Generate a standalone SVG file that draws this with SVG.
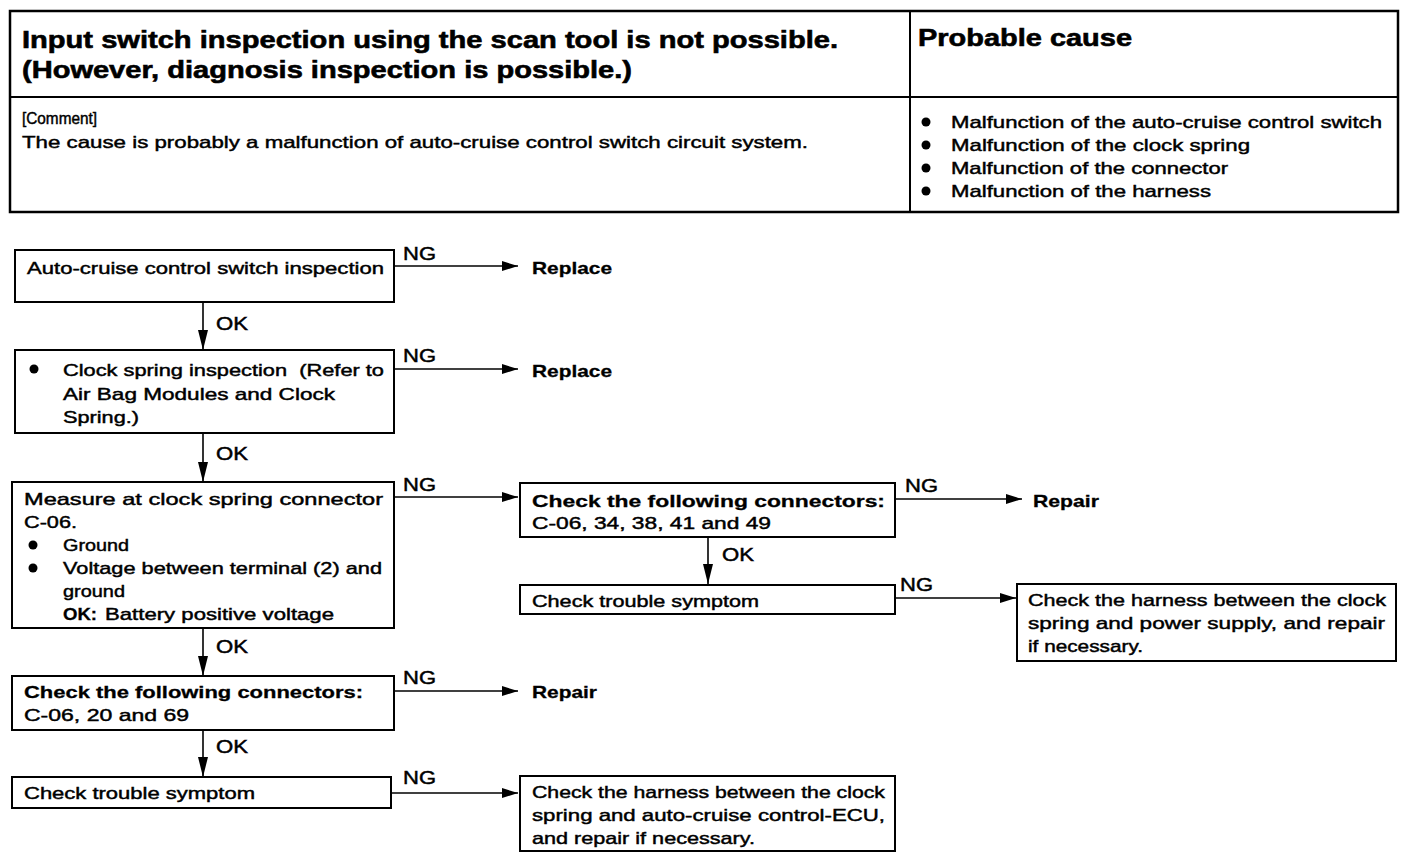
<svg xmlns="http://www.w3.org/2000/svg" width="1408" height="860" viewBox="0 0 1408 860">
<defs>
<style>
text{font-family:"Liberation Sans",Arial,sans-serif;fill:#000}
.t{font-size:17px;stroke:#000;stroke-width:0.45}
.b{font-size:17px;font-weight:bold;stroke:#000;stroke-width:0.3}
.h{font-size:24px;font-weight:bold;stroke:#000;stroke-width:0.6}
.lbl{font-size:18px;stroke:#000;stroke-width:0.45}
.box{fill:#fff;stroke:#000;stroke-width:2}
.ln{fill:none;stroke:#000;stroke-width:1.6}
</style>
<marker id="ah" viewBox="0 0 16 10" refX="16" refY="5" markerWidth="16" markerHeight="10" markerUnits="userSpaceOnUse" orient="auto"><path d="M0,0 L16,5 L0,10 z" fill="#000"/></marker>
<marker id="av" viewBox="0 0 20 10" refX="20" refY="5" markerWidth="20" markerHeight="10" markerUnits="userSpaceOnUse" orient="auto"><path d="M0,0 L20,5 L0,10 z" fill="#000"/></marker>
</defs>
<rect width="1408" height="860" fill="#fff"/>

<g id="table">
<rect x="10" y="11" width="1388" height="201" fill="none" stroke="#000" stroke-width="2.5"/>
<line x1="10" y1="97" x2="1398" y2="97" stroke="#000" stroke-width="2"/>
<line x1="910" y1="11" x2="910" y2="212" stroke="#000" stroke-width="2"/>
<text class="h" x="22" y="48" textLength="816" lengthAdjust="spacingAndGlyphs">Input switch inspection using the scan tool is not possible.</text>
<text class="h" x="22" y="78" textLength="610" lengthAdjust="spacingAndGlyphs">(However, diagnosis inspection is possible.)</text>
<text class="h" x="918" y="46" textLength="214" lengthAdjust="spacingAndGlyphs">Probable cause</text>
<text class="t" x="22" y="124" textLength="75" lengthAdjust="spacingAndGlyphs">[Comment]</text>
<text class="t" x="22" y="148" textLength="786" lengthAdjust="spacingAndGlyphs">The cause is probably a malfunction of auto-cruise control switch circuit system.</text>
<circle cx="926" cy="122" r="4.5"/>
<circle cx="926" cy="145" r="4.5"/>
<circle cx="926" cy="168" r="4.5"/>
<circle cx="926" cy="191" r="4.5"/>
<text class="t" x="951" y="128" textLength="431" lengthAdjust="spacingAndGlyphs">Malfunction of the auto-cruise control switch</text>
<text class="t" x="951" y="151" textLength="299" lengthAdjust="spacingAndGlyphs">Malfunction of the clock spring</text>
<text class="t" x="951" y="174" textLength="277" lengthAdjust="spacingAndGlyphs">Malfunction of the connector</text>
<text class="t" x="951" y="197" textLength="260" lengthAdjust="spacingAndGlyphs">Malfunction of the harness</text>
</g>

<g id="connectors">
<line class="ln" x1="394" y1="266" x2="518" y2="266" marker-end="url(#ah)"/>
<line class="ln" x1="394" y1="369" x2="518" y2="369" marker-end="url(#ah)"/>
<line class="ln" x1="394" y1="497" x2="518" y2="497" marker-end="url(#ah)"/>
<line class="ln" x1="895" y1="499" x2="1022" y2="499" marker-end="url(#ah)"/>
<line class="ln" x1="895" y1="598" x2="1016" y2="598" marker-end="url(#ah)"/>
<line class="ln" x1="394" y1="691" x2="518" y2="691" marker-end="url(#ah)"/>
<line class="ln" x1="391" y1="793" x2="518" y2="793" marker-end="url(#ah)"/>
<line class="ln" x1="203" y1="302" x2="203" y2="350" marker-end="url(#av)"/>
<line class="ln" x1="203" y1="433" x2="203" y2="482" marker-end="url(#av)"/>
<line class="ln" x1="203" y1="628" x2="203" y2="676" marker-end="url(#av)"/>
<line class="ln" x1="203" y1="730" x2="203" y2="777" marker-end="url(#av)"/>
<line class="ln" x1="708" y1="537" x2="708" y2="584" marker-end="url(#av)"/>
<text class="lbl" x="403" y="260" textLength="33" lengthAdjust="spacingAndGlyphs">NG</text>
<text class="lbl" x="403" y="362" textLength="33" lengthAdjust="spacingAndGlyphs">NG</text>
<text class="lbl" x="403" y="491" textLength="33" lengthAdjust="spacingAndGlyphs">NG</text>
<text class="lbl" x="905" y="492" textLength="33" lengthAdjust="spacingAndGlyphs">NG</text>
<text class="lbl" x="900" y="591" textLength="33" lengthAdjust="spacingAndGlyphs">NG</text>
<text class="lbl" x="403" y="684" textLength="33" lengthAdjust="spacingAndGlyphs">NG</text>
<text class="lbl" x="403" y="784" textLength="33" lengthAdjust="spacingAndGlyphs">NG</text>
<text class="lbl" x="216" y="330" textLength="32" lengthAdjust="spacingAndGlyphs">OK</text>
<text class="lbl" x="216" y="460" textLength="32" lengthAdjust="spacingAndGlyphs">OK</text>
<text class="lbl" x="216" y="653" textLength="32" lengthAdjust="spacingAndGlyphs">OK</text>
<text class="lbl" x="216" y="753" textLength="32" lengthAdjust="spacingAndGlyphs">OK</text>
<text class="lbl" x="722" y="561" textLength="32" lengthAdjust="spacingAndGlyphs">OK</text>
</g>

<g id="n1">
<rect class="box" x="15" y="250" width="379" height="52"/>
<text class="t" x="27" y="274" textLength="357" lengthAdjust="spacingAndGlyphs">Auto-cruise control switch inspection</text>
</g>
<g id="r1"><text class="b" x="532" y="274" textLength="80" lengthAdjust="spacingAndGlyphs">Replace</text></g>

<g id="n2">
<rect class="box" x="15" y="350" width="379" height="83"/>
<circle cx="34" cy="369" r="4.5"/>
<text class="t" x="63" y="376" textLength="321" lengthAdjust="spacingAndGlyphs">Clock spring inspection&#160; (Refer to</text>
<text class="t" x="63" y="400" textLength="272" lengthAdjust="spacingAndGlyphs">Air Bag Modules and Clock</text>
<text class="t" x="63" y="423" textLength="76" lengthAdjust="spacingAndGlyphs">Spring.)</text>
</g>
<g id="r2"><text class="b" x="532" y="377" textLength="80" lengthAdjust="spacingAndGlyphs">Replace</text></g>

<g id="n3">
<rect class="box" x="12" y="482" width="382" height="146"/>
<text class="t" x="24" y="505" textLength="359" lengthAdjust="spacingAndGlyphs">Measure at clock spring connector</text>
<text class="t" x="24" y="528" textLength="53" lengthAdjust="spacingAndGlyphs">C-06.</text>
<circle cx="33" cy="545" r="4.5"/>
<text class="t" x="63" y="551" textLength="66" lengthAdjust="spacingAndGlyphs">Ground</text>
<circle cx="33" cy="568" r="4.5"/>
<text class="t" x="63" y="574" textLength="319" lengthAdjust="spacingAndGlyphs">Voltage between terminal (2) and</text>
<text class="t" x="63" y="597" textLength="62" lengthAdjust="spacingAndGlyphs">ground</text>
<text class="b" x="63" y="620" textLength="34" lengthAdjust="spacingAndGlyphs">OK:</text>
<text class="t" x="105" y="620" textLength="229" lengthAdjust="spacingAndGlyphs">Battery positive voltage</text>
</g>

<g id="n4">
<rect class="box" x="520" y="483" width="375" height="54"/>
<text class="b" x="532" y="507" textLength="353" lengthAdjust="spacingAndGlyphs">Check the following connectors:</text>
<text class="t" x="532" y="529" textLength="239" lengthAdjust="spacingAndGlyphs">C-06, 34, 38, 41 and 49</text>
</g>
<g id="r3"><text class="b" x="1033" y="507" textLength="66" lengthAdjust="spacingAndGlyphs">Repair</text></g>

<g id="n5">
<rect class="box" x="520" y="585" width="375" height="29"/>
<text class="t" x="532" y="607" textLength="227" lengthAdjust="spacingAndGlyphs">Check trouble symptom</text>
</g>

<g id="n6">
<rect class="box" x="1017" y="584" width="379" height="77"/>
<text class="t" x="1028" y="606" textLength="358" lengthAdjust="spacingAndGlyphs">Check the harness between the clock</text>
<text class="t" x="1028" y="629" textLength="357" lengthAdjust="spacingAndGlyphs">spring and power supply, and repair</text>
<text class="t" x="1028" y="652" textLength="115" lengthAdjust="spacingAndGlyphs">if necessary.</text>
</g>

<g id="n7">
<rect class="box" x="12" y="676" width="382" height="54"/>
<text class="b" x="24" y="698" textLength="339" lengthAdjust="spacingAndGlyphs">Check the following connectors:</text>
<text class="t" x="24" y="721" textLength="165" lengthAdjust="spacingAndGlyphs">C-06, 20 and 69</text>
</g>
<g id="r4"><text class="b" x="532" y="698" textLength="65" lengthAdjust="spacingAndGlyphs">Repair</text></g>

<g id="n8">
<rect class="box" x="12" y="777" width="379" height="31"/>
<text class="t" x="24" y="799" textLength="231" lengthAdjust="spacingAndGlyphs">Check trouble symptom</text>
</g>

<g id="n9">
<rect class="box" x="520" y="776" width="375" height="75"/>
<text class="t" x="532" y="798" textLength="353" lengthAdjust="spacingAndGlyphs">Check the harness between the clock</text>
<text class="t" x="532" y="821" textLength="353" lengthAdjust="spacingAndGlyphs">spring and auto-cruise control-ECU,</text>
<text class="t" x="532" y="844" textLength="223" lengthAdjust="spacingAndGlyphs">and repair if necessary.</text>
</g>
</svg>
